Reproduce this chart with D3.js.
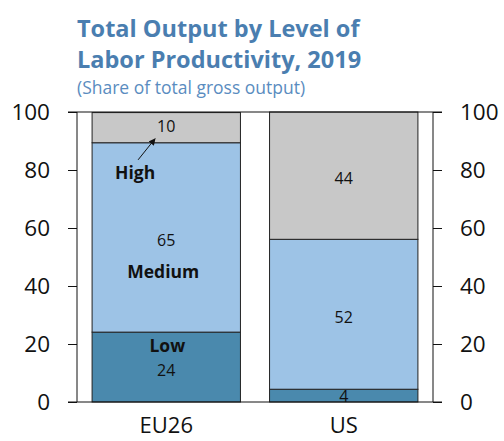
<!DOCTYPE html>
<html><head><meta charset="utf-8">
<script src="https://cdn.jsdelivr.net/npm/d3@7"></script>
<style>body{margin:0;background:#fff}svg{display:block}</style>
</head><body>
<script>
const categories = ["EU26", "US"];
const levels = ["Low", "Medium", "High"];
const low = [24.1, 4.4];
const medium = [65.3, 51.7];
const high = [10.4, 43.9];
const yTicks = [0, 20, 40, 60, 80, 100];
const colors = {Low: "#4A89AD", Medium: "#9DC3E6", High: "#C8C8C8"};

const W = 504, H = 441;
const m = {left: 77, right: 71, top: 112, bottom: 39};
const svg = d3.select("body").append("svg").attr("width", W).attr("height", H);
const font = "'Open Sans', 'Noto Sans', sans-serif";

const x = d3.scaleBand().domain(categories).range([m.left, W - m.right]).paddingInner(0.164).paddingOuter(0.085);
const y = d3.scaleLinear().domain([0, 100]).range([H - m.bottom, m.top]);

const rows = categories.map((c, i) => ({cat: c, Low: low[i], Medium: medium[i], High: high[i]}));
const stack = d3.stack().keys(levels)(rows);

// bars
stack.forEach(layer => {
  svg.append("g").selectAll("rect").data(layer).join("rect")
    .attr("x", d => x(d.data.cat))
    .attr("width", x.bandwidth())
    .attr("y", d => y(Math.min(100, d[1])))
    .attr("height", d => y(d[0]) - y(Math.min(100, d[1])))
    .attr("fill", colors[layer.key])
    .attr("stroke", "#222").attr("stroke-width", 1);
});

// value labels
stack.forEach(layer => {
  svg.append("g").selectAll("text").data(layer).join("text")
    .attr("x", d => x(d.data.cat) + x.bandwidth() / 2)
    .attr("y", d => {
      const mid = (y(d[0]) + y(Math.min(100, d[1]))) / 2;
      if (d.data.cat === "EU26" && layer.key === "Low") return mid + 3;
      if (d.data.cat === "EU26" && layer.key === "High") return mid - 1;
      if (d.data.cat === "US" && layer.key === "Low") return mid + 1;
      return mid + 3;
    })
    .attr("dy", "0.35em")
    .attr("text-anchor", "middle")
    .attr("font-family", font).attr("font-size", 16).attr("fill", "#111")
    .text(d => d3.format(".0f")(d.data[layer.key]));
});

// category name labels in EU26 bar
const eu = x("EU26"), bw = x.bandwidth();
const bold = (t, px, py) => svg.append("text").attr("x", px).attr("y", py).attr("dy", "0.35em")
  .attr("text-anchor", "middle").attr("font-family", font).attr("font-size", 17.5)
  .attr("font-weight", "bold").attr("fill", "#111").text(t);
bold("High", eu + 43, y(79));
bold("Medium", eu + bw / 2 - 3, y(45));
bold("Low", eu + bw / 2 + 1, y(19.5));

// arrow
svg.append("defs").append("marker").attr("id", "ah").attr("viewBox", "0 0 10 10")
  .attr("refX", 9).attr("refY", 5).attr("markerWidth", 7).attr("markerHeight", 7).attr("orient", "auto")
  .append("path").attr("d", "M0,0L10,5L0,10z").attr("fill", "#111");
svg.append("line").attr("x1", eu + 46).attr("y1", y(83.5)).attr("x2", eu + 63).attr("y2", y(90.8))
  .attr("stroke", "#111").attr("stroke-width", 1).attr("marker-end", "url(#ah)");

// axes
const axL = svg.append("g").attr("transform", `translate(${m.left},0)`)
  .call(d3.axisLeft(y).tickValues(yTicks).tickSize(9).tickPadding(18));
const axR = svg.append("g").attr("transform", `translate(${W - m.right},0)`)
  .call(d3.axisRight(y).tickValues(yTicks).tickSize(9).tickPadding(18));
[axL, axR].forEach(a => {
  a.select(".domain").remove();
  a.selectAll("line").attr("stroke", "#111");
  a.selectAll("text").attr("font-family", font).attr("font-size", 22.5).attr("fill", "#111");
});
svg.append("line").attr("x1", m.left).attr("x2", m.left).attr("y1", y(0)).attr("y2", y(100)).attr("stroke", "#111");
svg.append("line").attr("x1", W - m.right).attr("x2", W - m.right).attr("y1", y(0)).attr("y2", y(100)).attr("stroke", "#111");
svg.append("line").attr("x1", m.left - 9).attr("x2", W - m.right + 9).attr("y1", y(100)).attr("y2", y(100)).attr("stroke", "#111");
svg.append("line").attr("x1", m.left - 9).attr("x2", W - m.right + 9).attr("y1", y(0)).attr("y2", y(0)).attr("stroke", "#111");

const axB = svg.append("g").attr("transform", `translate(0,${y(0)})`)
  .call(d3.axisBottom(x).tickSize(0).tickPadding(15));
axB.select(".domain").remove();
axB.selectAll("text").attr("font-family", font).attr("font-size", 22).attr("fill", "#111");

// titles
svg.append("text").attr("x", 77).attr("y", 37).attr("font-family", font).attr("font-size", 23.5)
  .attr("font-weight", "bold").attr("fill", "#4A7EB0").text("Total Output by Level of");
svg.append("text").attr("x", 77).attr("y", 68).attr("font-family", font).attr("font-size", 23.5)
  .attr("font-weight", "bold").attr("fill", "#4A7EB0").text("Labor Productivity, 2019");
svg.append("text").attr("x", 77).attr("y", 94).attr("font-family", font).attr("font-size", 17.5)
  .attr("fill", "#5A8CC0").text("(Share of total gross output)");
</script>
</body></html>
